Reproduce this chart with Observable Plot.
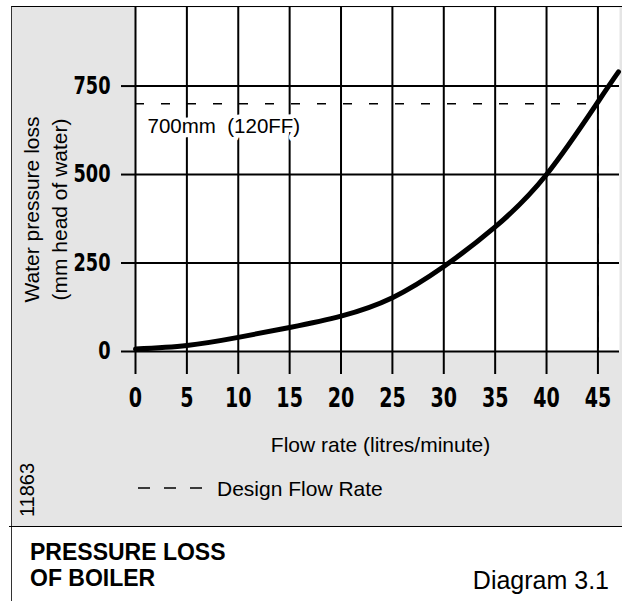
<!DOCTYPE html>
<html>
<head>
<meta charset="utf-8">
<script src="https://cdn.jsdelivr.net/npm/d3@7"></script>
<script src="https://cdn.jsdelivr.net/npm/@observablehq/plot@0.6"></script>
<style>
  html, body { margin: 0; padding: 0; background: #fff; }
  body { font-family: "Liberation Sans", Arial, Helvetica, sans-serif; color: #000; }
  #wrap { position: relative; width: 622px; height: 601px; overflow: hidden; }
  #frame { position: absolute; left: 11px; top: 6px; width: 611px; height: 600px;
           border-left: 1px solid #333; border-top: 1px solid #000; box-sizing: border-box; }
  #panel { position: absolute; left: 12px; top: 7px; width: 610px; height: 519px; background: #e5e5e5; }
  #panel svg { display: block; }
  #rule { position: absolute; left: 9px; top: 526px; width: 613px; height: 1px; background: #000; }
  .txt { position: absolute; white-space: nowrap; }
  #legend { left: 138px; top: 478px; font-size: 21px; line-height: 21px; }
  #legend svg { position: absolute; left: 0; top: 0; }
  #legend span { position: absolute; left: 79px; top: 0; }
  #code { left: 27px; top: 490px; font-size: 20px; line-height: 20px; transform: translate(-50%, -50%) rotate(-90deg); }
  #title { left: 30px; top: 539px; font-size: 23px; line-height: 26px; font-weight: bold; }
  #diag { right: 13px; top: 568px; font-size: 25px; line-height: 25px; }
</style>
</head>
<body>
<div id="wrap">
  <div id="frame"></div>
  <div id="panel"></div>
  <div id="rule"></div>
  <div id="legend" class="txt">
    <svg width="70" height="21"><line x1="0" x2="66" y1="10" y2="10" stroke="#000" stroke-width="1.6" stroke-dasharray="12,14"></line></svg>
    <span>Design Flow Rate</span>
  </div>
  <div id="code" class="txt">11863</div>
  <div id="title" class="txt">PRESSURE LOSS<br>OF BOILER</div>
  <div id="diag" class="txt">Diagram 3.1</div>
</div>
<script>
// Data
const flowRate = [0, 5, 10, 15, 20, 25, 30, 35, 40, 45, 47];          // litres/minute
const pressureLoss = [7, 17, 40, 68, 100, 152, 240, 352, 500, 705, 790]; // mm head of water
const xTicks = [0, 5, 10, 15, 20, 25, 30, 35, 40, 45];
const yTicks = [0, 250, 500, 750];
const designFlow = [45];
const designLoss = [700];
const designLabel = ["700mm\u00a0\u00a0(120FF)"];
const xLabel = ["Flow rate (litres/minute)"];
const yLabel = ["Water pressure loss\n(mm head of water)"];

const curve = flowRate.map((f, i) => ({flow: f, loss: pressureLoss[i]}));

const tickFont = "'DejaVu Sans', sans-serif";
const textFont = "'Liberation Sans', Arial, Helvetica, sans-serif";

const chart = Plot.plot({
  width: 610,
  height: 519,
  marginLeft: 123,
  marginRight: 3,
  marginTop: 0,
  marginBottom: 175,
  style: {background: "transparent", color: "black", overflow: "visible"},
  x: {domain: [0, 47.1], label: null},
  y: {domain: [0, 972], label: null},
  marks: [
    Plot.frame({fill: "white", stroke: null}),
    Plot.gridY(yTicks, {stroke: "black", strokeOpacity: 1, strokeWidth: 2}),
    Plot.gridX(xTicks, {stroke: "black", strokeOpacity: 1, strokeWidth: 2}),
    Plot.axisY(yTicks, {
      tickSize: 14, tickPadding: 11, strokeWidth: 2,
      fontSize: 24, fontWeight: "bold", fontFamily: tickFont, label: null
    }),
    Plot.axisX(xTicks, {
      tickSize: 23, tickPadding: 14, strokeWidth: 2,
      fontSize: 26.5, fontWeight: "bold", fontFamily: tickFont, label: null
    }),
    Plot.ruleY(designLoss, {x1: 0, x2: designFlow[0], stroke: "black", strokeWidth: 1.6, strokeDasharray: "9,17"}),
    Plot.ruleX(designFlow, {y1: designLoss[0], y2: 0, stroke: "black", strokeWidth: 1.6, strokeDasharray: "11,15"}),
    Plot.text(designLabel, {
      x: 0, y: designLoss[0], text: d => d, dx: 12, dy: 23,
      textAnchor: "start", lineAnchor: "middle",
      fontSize: 20.5, fontFamily: textFont,
      fill: "black", stroke: "white", strokeWidth: 9, paintOrder: "stroke"
    }),
    Plot.line(curve, {x: "flow", y: "loss", curve: "natural", stroke: "black", strokeWidth: 5}),
    Plot.text(yLabel, {
      text: d => d, frameAnchor: "left", rotate: -90, dx: -91, dy: 30,
      textAnchor: "middle", lineAnchor: "middle", lineHeight: 1.33,
      fontSize: 21, fontFamily: textFont, fill: "black"
    }),
    Plot.text(xLabel, {
      text: d => d, frameAnchor: "bottom", dx: 3, dy: 94,
      textAnchor: "middle", lineAnchor: "middle",
      fontSize: 21, fontFamily: textFont, fill: "black"
    })
  ]
});

// Condense the bold tick labels horizontally (the reference uses a condensed bold face)
function condense(selector, sx) {
  d3.select(chart).selectAll(selector).each(function () {
    const t = d3.select(this);
    const tr = t.attr("transform");
    if (tr) {
      t.attr("transform", tr + ` scale(${sx},1)`);
    } else {
      const x = +t.attr("x") || 0, y = +t.attr("y") || 0;
      t.attr("x", null).attr("y", null).attr("transform", `translate(${x},${y}) scale(${sx},1)`);
    }
  });
}
condense('g[aria-label="y-axis tick label"] text', 0.74);
condense('g[aria-label="x-axis tick label"] text', 0.72);

document.getElementById("panel").appendChild(chart);
</script>
</body>
</html>
